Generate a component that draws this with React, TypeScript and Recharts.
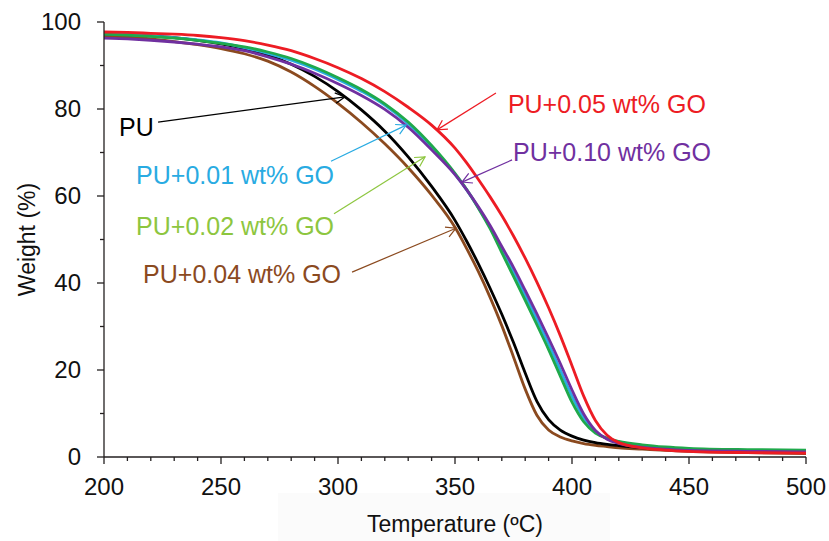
import { LineChart, Line, XAxis, YAxis, ReferenceLine, ReferenceDot, Label } from 'recharts';

// temperature grid (ºC)
const temps = [
  200, 210, 220, 230, 240, 250, 260, 270, 280, 290, 300, 310, 320, 330, 340, 350,
  355, 360, 365, 370, 375, 380, 385, 390, 395, 400, 405, 410, 415, 420,
  430, 440, 450, 475, 500,
];

// weight (%) per sample
const pu = [
  97.3, 97.1, 96.8, 96.4, 95.8, 95.0, 93.9, 92.4, 90.3, 87.5, 84.0, 79.8, 74.9, 69.0, 62.2, 54.4,
  49.6, 44.4, 38.8, 32.8, 26.3, 19.3, 12.8, 8.6, 6.2, 4.8, 3.9, 3.3, 2.9, 2.6,
  2.1, 1.8, 1.6, 1.2, 1.0,
];
const go01 = [
  97.3, 97.1, 96.8, 96.4, 95.9, 95.2, 94.1, 92.8, 91.2, 89.2, 86.8, 84.1, 80.9, 76.6, 71.2, 65.0,
  61.4, 57.3, 52.8, 47.7, 42.5, 37.1, 31.6, 26.0, 20.0, 14.0, 9.0, 5.8, 4.2, 3.3,
  2.4, 2.0, 1.8, 1.5, 1.4,
];
const go02 = [
  97.2, 97.0, 96.7, 96.3, 95.8, 95.1, 94.3, 93.1, 91.6, 89.6, 87.2, 84.5, 81.2, 77.0, 71.6, 65.2,
  61.5, 57.2, 52.5, 47.0, 41.5, 36.0, 30.4, 24.7, 18.6, 12.6, 8.1, 5.5, 4.3, 3.6,
  2.8, 2.3, 2.0, 1.7, 1.6,
];
const go04 = [
  96.8, 96.5, 96.1, 95.5, 94.8, 93.9, 92.7, 91.0, 88.5, 85.2, 81.3, 76.9, 72.0, 66.5, 60.2, 52.8,
  47.9, 42.6, 36.7, 30.2, 23.0, 15.6, 9.6, 6.2, 4.6, 3.7, 3.1, 2.7, 2.4, 2.1,
  1.8, 1.5, 1.3, 1.0, 0.8,
];
const go05 = [
  97.7, 97.6, 97.4, 97.2, 96.9, 96.4, 95.7, 94.7, 93.4, 91.6, 89.5, 87.0, 84.0, 80.4, 76.3, 71.0,
  67.6, 63.8, 59.8, 55.5, 50.8, 45.7, 40.2, 34.3, 27.9, 21.0, 14.0, 8.4, 5.0, 3.3,
  2.1, 1.6, 1.3, 1.0, 0.9,
];
const go10 = [
  96.3, 96.1, 95.8, 95.4, 94.9, 94.3, 93.4, 92.0, 90.3, 88.2, 85.8, 83.1, 79.9, 75.8, 70.6, 64.9,
  61.4, 57.5, 53.2, 48.4, 43.6, 38.3, 32.9, 27.3, 21.5, 15.4, 9.9, 6.1, 4.1, 3.1,
  2.2, 1.8, 1.5, 1.3, 1.2,
];

const xMajor = [200, 250, 300, 350, 400, 450, 500];
const yMajor = [0, 20, 40, 60, 80, 100];
const xTicks: number[] = [];
for (let t = 200; t <= 500; t += 10) xTicks.push(t);
const yTicks: number[] = [];
for (let w = 0; w <= 100; w += 10) yTicks.push(w);

const FONT = '"Liberation Sans", Arial, sans-serif';
const AXIS = '#231f20';

// drawn back to front
const series = [
  { key: 'go04', values: go04, color: '#8b4a1f' },
  { key: 'pu', values: pu, color: '#000000' },
  { key: 'go01', values: go01, color: '#29abe2' },
  { key: 'go02', values: go02, color: '#1fa94b' },
  { key: 'go10', values: go10, color: '#7030a0' },
  { key: 'go05', values: go05, color: '#ed1c24' },
];

const data = temps.map((t, i) => {
  const row: Record<string, number> = { temp: t };
  series.forEach((s) => {
    row[s.key] = s.values[i];
  });
  return row;
});

// callouts in data coordinates (ºC, %)
const callouts = [
  { text: 'PU', color: '#000000', at: [206.4, 75.9], from: [223.1, 77.0], to: [303.0, 82.8] },
  { text: 'PU+0.01 wt% GO', color: '#29abe2', at: [213.7, 64.8], from: [297.0, 68.0], to: [329.1, 76.3] },
  { text: 'PU+0.02 wt% GO', color: '#8dc63f', at: [213.7, 53.1], from: [298.3, 55.9], to: [337.2, 69.0] },
  { text: 'PU+0.04 wt% GO', color: '#8b4a1f', at: [216.7, 42.1], from: [306.0, 42.5], to: [350.4, 52.6] },
  { text: 'PU+0.05 wt% GO', color: '#ed1c24', at: [372.6, 81.1], from: [367.5, 83.7], to: [342.3, 75.2] },
  { text: 'PU+0.10 wt% GO', color: '#7030a0', at: [374.8, 70.1], from: [374.4, 68.3], to: [353.0, 63.2] },
];

const arrowShape = (color: string) => (p: any) => {
  const { x1, y1, x2, y2 } = p;
  const ang = Math.atan2(y2 - y1, x2 - x1);
  const len = 11;
  const spread = 0.5;
  const ax = x2 - len * Math.cos(ang - spread);
  const ay = y2 - len * Math.sin(ang - spread);
  const bx = x2 - len * Math.cos(ang + spread);
  const by = y2 - len * Math.sin(ang + spread);
  return (
    <g>
      <line x1={x1} y1={y1} x2={x2} y2={y2} stroke={color} strokeWidth={1.2} />
      <polyline points={`${ax},${ay} ${x2},${y2} ${bx},${by}`} fill="none" stroke={color} strokeWidth={1.2} />
    </g>
  );
};

const XTick = (props: any) => {
  const { x, y, payload } = props;
  const major = xMajor.includes(payload.value);
  return (
    <g>
      <line x1={x} y1={y} x2={x} y2={y + (major ? 7 : 4)} stroke={AXIS} strokeWidth={1.3} />
      {major && (
        <text x={x} y={y + 30} dy="0.35em" textAnchor="middle" fontSize={24} fontFamily={FONT} fill="#111">
          {payload.value}
        </text>
      )}
    </g>
  );
};

const YTick = (props: any) => {
  const { x, y, payload } = props;
  const major = yMajor.includes(payload.value);
  return (
    <g>
      <line x1={x - (major ? 7 : 4)} y1={y} x2={x} y2={y} stroke={AXIS} strokeWidth={1.3} />
      {major && (
        <text x={x - 23} y={y} dy="0.35em" textAnchor="end" fontSize={24} fontFamily={FONT} fill="#111">
          {payload.value}
        </text>
      )}
    </g>
  );
};

export default function App() {
  return (
    <div style={{ position: 'absolute', left: 0, top: 0, width: 829, height: 541, background: '#fff' }}>
      <div style={{ position: 'absolute', left: 278, top: 493, width: 332, height: 48, background: '#fbfbfb' }} />
      <div style={{ position: 'absolute', left: 0, top: 0 }}>
        <LineChart width={829} height={541} data={data} margin={{ top: 22, right: 23, left: 0, bottom: 0 }}>
          <XAxis
            dataKey="temp"
            type="number"
            domain={[200, 500]}
            ticks={xTicks}
            interval={0}
            height={84}
            tickSize={0}
            tickMargin={0}
            tickLine={false}
            tick={XTick}
            axisLine={{ stroke: AXIS, strokeWidth: 1.3 }}
          >
            <Label
              content={(p: any) => {
                const vb = p.viewBox;
                return (
                  <text
                    x={vb.x + vb.width / 2}
                    y={vb.y + 67}
                    dy="0.35em"
                    textAnchor="middle"
                    fontSize={23}
                    fontFamily={FONT}
                    fill="#111"
                  >
                    Temperature (ºC)
                  </text>
                );
              }}
            />
          </XAxis>
          <YAxis
            type="number"
            domain={[0, 100]}
            ticks={yTicks}
            interval={0}
            width={104}
            tickSize={0}
            tickMargin={0}
            tickLine={false}
            tick={YTick}
            axisLine={{ stroke: AXIS, strokeWidth: 1.3 }}
          >
            <Label
              content={(p: any) => {
                const vb = p.viewBox;
                const cx = vb.x + 27;
                const cy = vb.y + vb.height / 2;
                return (
                  <text
                    x={cx}
                    y={cy}
                    dy="0.35em"
                    textAnchor="middle"
                    transform={`rotate(-90, ${cx}, ${cy})`}
                    fontSize={23}
                    fontFamily={FONT}
                    fill="#111"
                  >
                    Weight (%)
                  </text>
                );
              }}
            />
          </YAxis>
          {series.map((s) => (
            <Line
              key={s.key}
              dataKey={s.key}
              type="monotone"
              stroke={s.color}
              strokeWidth={2.8}
              dot={false}
              activeDot={false}
              isAnimationActive={false}
            />
          ))}
          {callouts.map((c) => (
            <ReferenceLine
              key={`arrow-${c.text}`}
              segment={[
                { x: c.from[0], y: c.from[1] },
                { x: c.to[0], y: c.to[1] },
              ]}
              shape={arrowShape(c.color)}
            />
          ))}
          {callouts.map((c) => (
            <ReferenceDot
              key={`text-${c.text}`}
              x={c.at[0]}
              y={c.at[1]}
              shape={(p: any) => (
                <text x={p.cx} y={p.cy} dy="0.35em" fontSize={25} fontFamily={FONT} fill={c.color}>
                  {c.text}
                </text>
              )}
            />
          ))}
        </LineChart>
      </div>
    </div>
  );
}
